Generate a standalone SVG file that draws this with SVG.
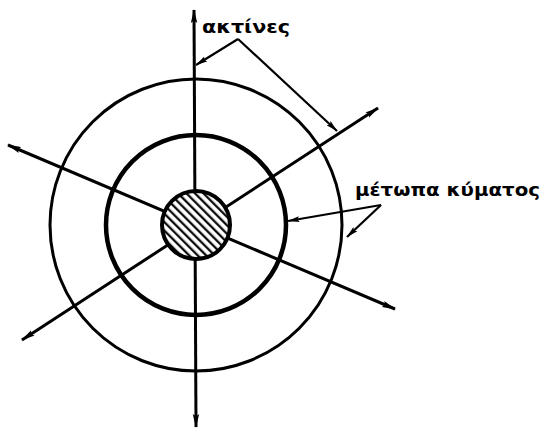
<svg xmlns="http://www.w3.org/2000/svg" width="545" height="428" viewBox="0 0 545 428">
  <style>
    .ray { stroke: #000; stroke-width: 3; fill: none; marker-start: url(#arr); marker-end: url(#arr); }
    .ptr { stroke: #000; stroke-width: 2.2; fill: none; marker-end: url(#arrS); }
    .front { fill: none; stroke: #000; }
    .lbl { font-family: "DejaVu Sans", "Liberation Sans", sans-serif; font-weight: bold; font-size: 18px; fill: #000; }
  </style>
  <defs>
    <marker id="arr" markerUnits="userSpaceOnUse" viewBox="0 0 14 8" refX="13" refY="4" markerWidth="14" markerHeight="8" orient="auto-start-reverse">
      <path d="M0,0.8 L14,4 L0,7.2 L2.5,4 Z" fill="#000"/>
    </marker>
    <marker id="arrS" markerUnits="userSpaceOnUse" viewBox="0 0 12 7" refX="11.5" refY="3.5" markerWidth="12" markerHeight="7" orient="auto">
      <path d="M0,0.6 L12,3.5 L0,6.4 L2,3.5 Z" fill="#000"/>
    </marker>
    <pattern id="hatch" patternUnits="userSpaceOnUse" width="6" height="6" patternTransform="rotate(-45)">
      <rect width="6" height="6" fill="#fff"/>
      <line x1="1.2" y1="0" x2="1.2" y2="6" stroke="#000" stroke-width="2.2"/>
    </pattern>
  </defs>
  <rect width="545" height="428" fill="#fff"/>

  <g id="wavefronts">
    <circle id="outer-front" class="front" cx="196" cy="225" r="146" stroke-width="3"/>
    <circle id="middle-front" class="front" cx="196" cy="225" r="90" stroke-width="4.5"/>
  </g>

  <g id="rays">
    <line class="ray" x1="194" y1="10" x2="196" y2="427" stroke-width="3.5"/>
    <line class="ray" x1="8" y1="145" x2="395" y2="309"/>
    <line class="ray" x1="22" y1="340" x2="378" y2="108"/>
  </g>

  <g id="source">
    <circle cx="196" cy="225" r="34" fill="url(#hatch)" stroke="#000" stroke-width="4"/>
  </g>

  <g id="connectors">
    <line class="ptr" x1="238" y1="39" x2="196" y2="65"/>
    <line class="ptr" x1="238" y1="39" x2="337" y2="131"/>
    <line class="ptr" x1="381" y1="205" x2="288" y2="221"/>
    <line class="ptr" x1="381" y1="205" x2="347" y2="237"/>
  </g>

  <g id="label-rays">
    <text class="lbl" x="202" y="33" textLength="88" lengthAdjust="spacingAndGlyphs">ακτίνες</text>
  </g>
  <g id="label-fronts">
    <text class="lbl" x="355" y="196" textLength="185" lengthAdjust="spacingAndGlyphs">μέτωπα κύματος</text>
  </g>
</svg>
